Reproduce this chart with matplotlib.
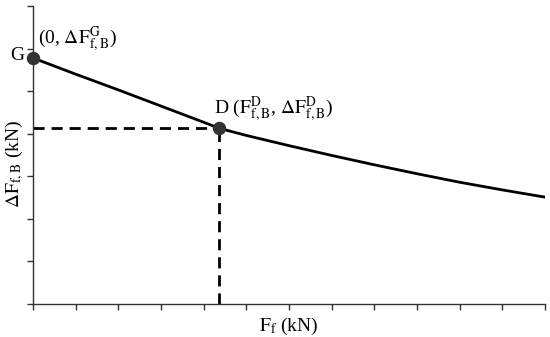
import matplotlib
matplotlib.use("Agg")
import matplotlib.pyplot as plt

plt.rcParams['font.family'] = ['Liberation Serif', 'DejaVu Serif']
plt.rcParams['mathtext.fontset'] = 'stix'

# curve values (arbitrary units, no tick labels shown)
force = [0, 1, 2, 3, 4, 4.36, 5, 6, 7, 8, 9, 10, 11, 12]
delta = [5.78, 5.40, 5.03, 4.65, 4.27, 4.13, 3.96, 3.72, 3.49, 3.27, 3.06, 2.86, 2.68, 2.51]

point_g = (0, 5.78)
point_d = (4.36, 4.13)

fig = plt.figure(figsize=(5.5, 3.37), dpi=100)
ax = fig.add_axes([0.06, 0.098, 0.931, 0.884])

ax.plot(force, delta, color='black', linewidth=2, zorder=3)

# dashed guide lines from D to the axes
ax.plot([0, point_d[0]], [point_d[1], point_d[1]], color='black', linewidth=2,
        linestyle=(0, (4, 2.5)), zorder=2)
ax.plot([point_d[0], point_d[0]], [0, point_d[1]], color='black', linewidth=2,
        linestyle=(0, (4, 2.5)), zorder=2)

ax.scatter([point_g[0], point_d[0]], [point_g[1], point_d[1]], s=75, color='#333333',
           zorder=4, clip_on=False)

ax.text(point_g[0] - 0.2, point_g[1] + 0.05, 'G', fontsize=14, ha='right', va='center')
ax.text(point_g[0] + 0.12, point_g[1] + 0.45, r'(0, $\Delta\mathrm{F}^{\mathrm{G}}_{\mathrm{f,B}}$)',
        fontsize=14, ha='left', va='center')
ax.text(point_d[0] - 0.12, point_d[1] + 0.45,
        r'D ($\mathrm{F}^{\mathrm{D}}_{\mathrm{f,B}}$, $\Delta\mathrm{F}^{\mathrm{D}}_{\mathrm{f,B}}$)',
        fontsize=14, ha='left', va='center')

ax.set_xlim(0, 12)
ax.set_ylim(0, 7)
ax.set_xticks(range(0, 13))
ax.set_yticks(range(0, 8))
ax.tick_params(direction='out', length=4, width=1, color='#333333',
               labelbottom=False, labelleft=False)
for side in ['top', 'right']:
    ax.spines[side].set_visible(False)
for side in ['left', 'bottom']:
    ax.spines[side].set_color('#333333')
    ax.spines[side].set_linewidth(1)

ax.set_xlabel(r'$\mathrm{F}_{\mathrm{f}}$ (kN)', fontsize=14, va='center')
ax.set_ylabel(r'$\Delta\mathrm{F}_{\mathrm{f,B}}$ (kN)', fontsize=14, va='center')
ax.xaxis.set_label_coords(0.5, -0.075)
ax.yaxis.set_label_coords(-0.036, 0.47)

fig.savefig('out.png', dpi=100)
